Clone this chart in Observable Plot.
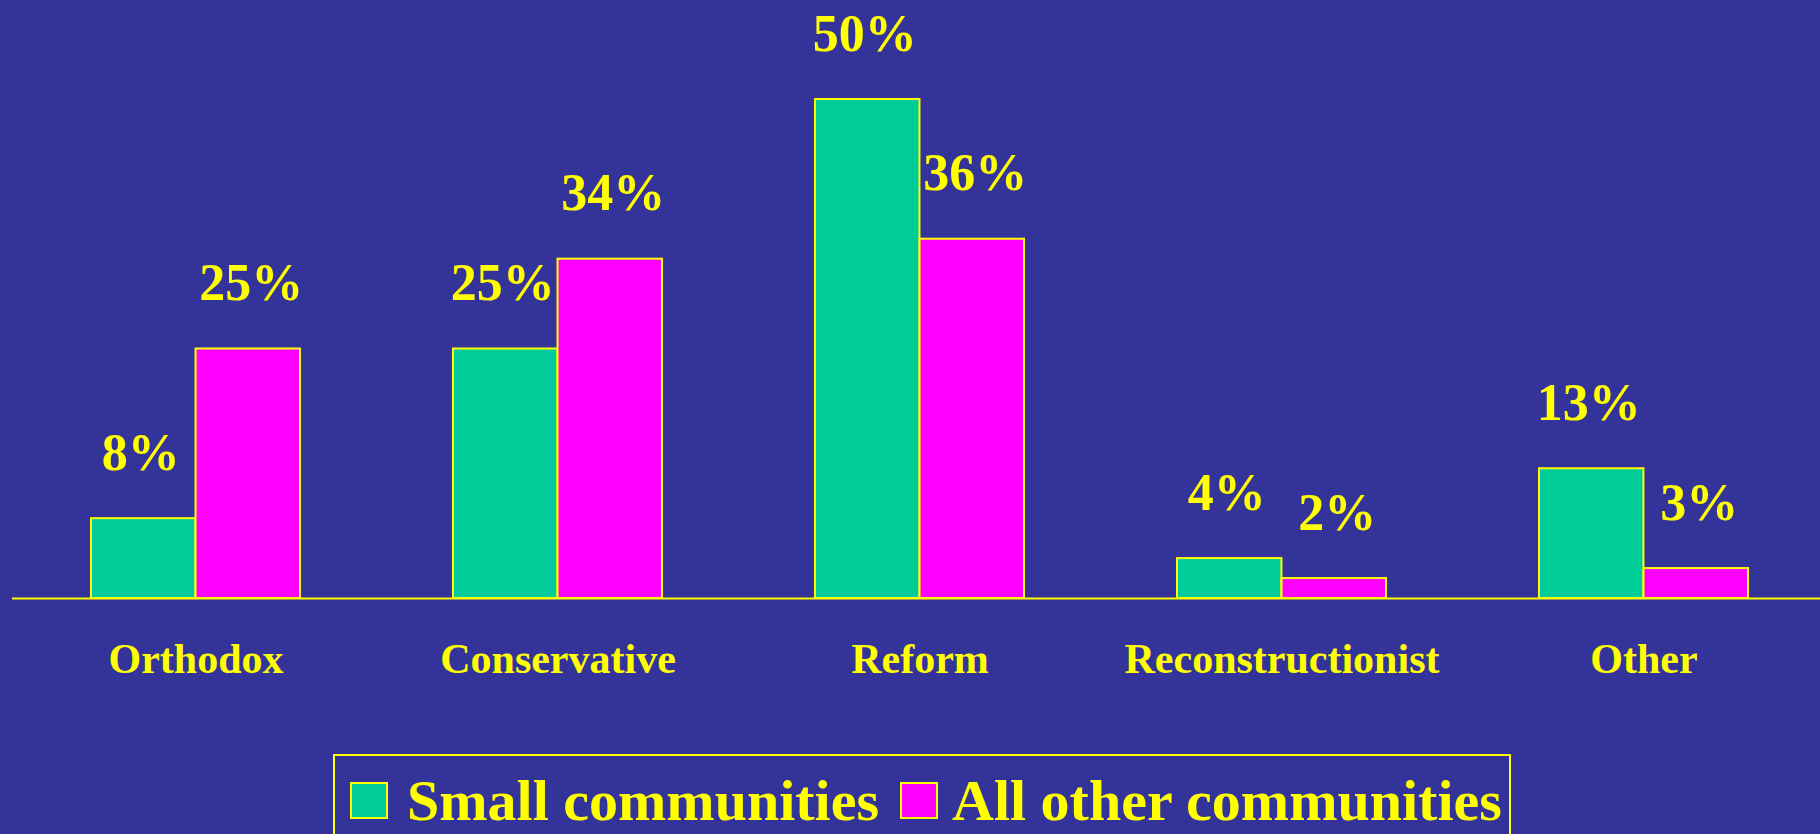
<!DOCTYPE html>
<html>
<head>
<meta charset="utf-8">
<script src="https://cdn.jsdelivr.net/npm/d3@7"></script>
<script src="https://cdn.jsdelivr.net/npm/@observablehq/plot@0.6"></script>
<style>
  html, body { margin: 0; padding: 0; background: #333399; overflow: hidden; width: 1820px; height: 834px; }
  #chart svg { display: block; }
  #legend {
    position: relative; margin-left: 333px; width: 1178px; height: 110px;
    box-sizing: border-box; border: 2px solid #FFFF00;
    font-family: "Liberation Serif", "Times New Roman", serif; font-weight: bold; color: #FFFF00;
  }
  .sw { position: absolute; top: 26px; width: 34px; height: 33px; border: 2px solid #FFFF00; }
  .lt { position: absolute; top: 10px; font-size: 58px; line-height: 70px; white-space: nowrap; }
</style>
</head>
<body>
<div id="chart"></div>
<div id="legend"></div>
<script>
const categories = ["Orthodox", "Conservative", "Reform", "Reconstructionist", "Other"];
const seriesNames = ["Small communities", "All other communities"];
const smallValues = [8, 25, 50, 4, 13];
const otherValues = [25, 34, 36, 2, 3];
const seriesColors = ["#00CC99", "#FF00FF"];

const W = 1820, H = 754;
const mL = 89, mR = 70, mT = 99, mB = 156;
const padIn = 0.424;
const band = d3.scaleBand().domain(categories).range([mL, W - mR]).paddingInner(padIn).paddingOuter(0);
const half = band.bandwidth() / 2;

const small = categories.map((c, i) => ({cat: c, value: smallValues[i]}));
const other = categories.map((c, i) => ({cat: c, value: otherValues[i]}));

const font = "'Liberation Serif', 'Times New Roman', serif";
const yellow = "#FFFF00";

const plot = Plot.plot({
  width: W, height: H,
  marginLeft: mL, marginRight: mR, marginTop: mT, marginBottom: mB,
  style: {background: "#333399", fontFamily: font},
  x: {domain: categories, paddingInner: padIn, paddingOuter: 0, axis: null},
  y: {domain: [0, 50], axis: null},
  marks: [
    Plot.barY(small, {x: "cat", y: "value", fill: seriesColors[0], stroke: yellow, strokeWidth: 2, insetRight: half}),
    Plot.barY(other, {x: "cat", y: "value", fill: seriesColors[1], stroke: yellow, strokeWidth: 2, insetLeft: half}),
    Plot.ruleY([0], {stroke: yellow, strokeWidth: 2, insetLeft: -(mL - 12), insetRight: -mR}),
    Plot.text(small, {x: "cat", y: "value", text: d => d.value + "%", dx: -half / 2 - 3, dy: -49, lineAnchor: "bottom", fill: yellow, fontSize: 52, fontWeight: "bold"}),
    Plot.text(other, {x: "cat", y: "value", text: d => d.value + "%", dx: half / 2 + 3, dy: -49, lineAnchor: "bottom", fill: yellow, fontSize: 52, fontWeight: "bold"}),
    Plot.text(categories, {x: d => d, frameAnchor: "bottom", dy: 61, text: d => d, fill: yellow, fontSize: 42, fontWeight: "bold", lineAnchor: "middle"})
  ]
});
document.getElementById("chart").appendChild(plot);

const legend = document.getElementById("legend");
const swX = [15, 565];
const txX = [72, 617];
seriesNames.forEach((name, i) => {
  const sw = document.createElement("div");
  sw.className = "sw";
  sw.style.left = swX[i] + "px";
  sw.style.background = seriesColors[i];
  legend.appendChild(sw);
  const t = document.createElement("div");
  t.className = "lt";
  t.style.left = txX[i] + "px";
  t.textContent = name;
  legend.appendChild(t);
});
</script>
</body>
</html>
